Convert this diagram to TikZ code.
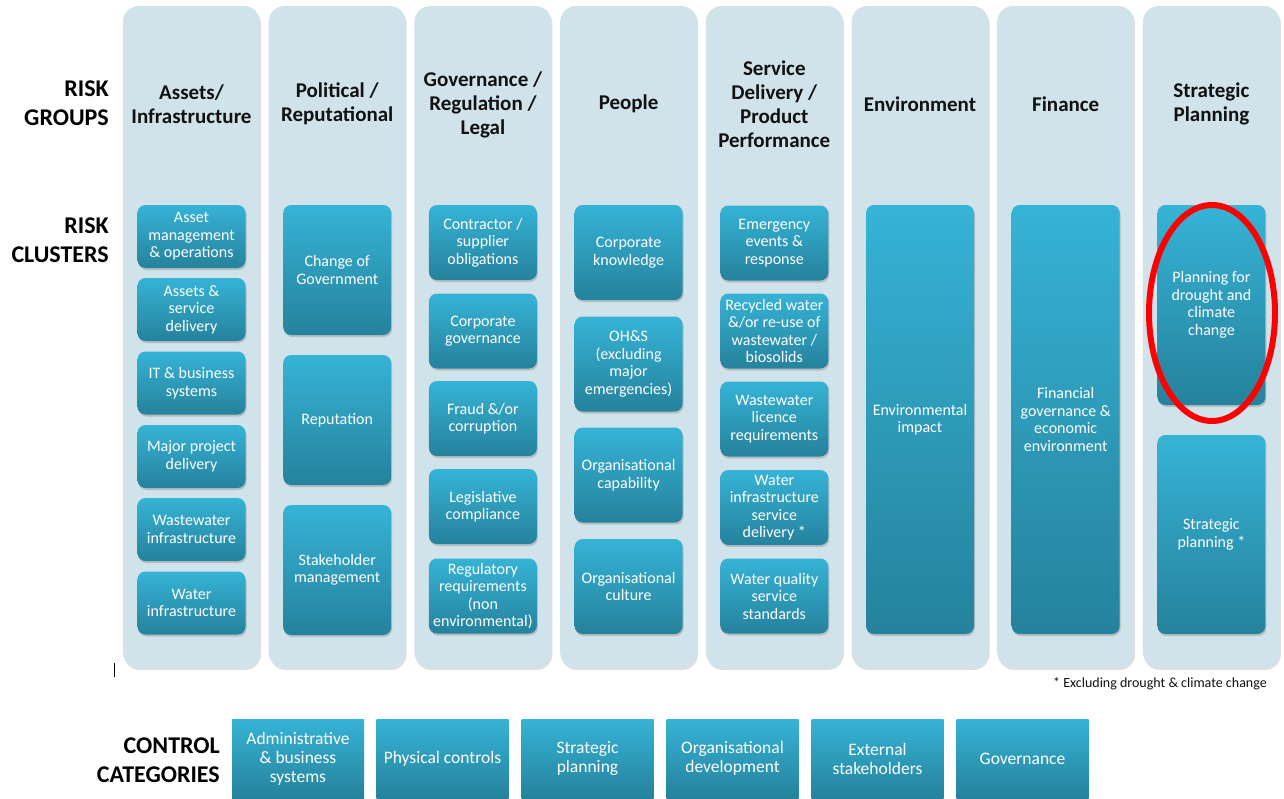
\documentclass[tikz,border=0pt]{standalone}
\usepackage{fontspec}
\setmainfont{Carlito}
\usetikzlibrary{shadows,shapes.geometric}
\definecolor{colbg}{HTML}{D0E2EA}
\definecolor{ctop}{HTML}{36B3D6}
\definecolor{cmid}{HTML}{2FA0C1}
\definecolor{cbot}{HTML}{25829C}
\definecolor{hdr}{HTML}{111111}
\definecolor{ring}{HTML}{FF0000}
\tikzset{
  colbox/.style={fill=colbg, rounded corners=16pt, minimum width=137pt, minimum height=662pt, inner sep=0pt,
    drop shadow={opacity=0.25, shadow xshift=1pt, shadow yshift=-2pt}},
  hdrtext/.style={font=\fontsize{21}{24}\selectfont\bfseries, text=hdr, align=center, inner sep=0pt},
  sidetext/.style={font=\fontsize{24}{29}\selectfont\bfseries, text=black, align=right, inner sep=0pt, anchor=east},
  clu/.style={rounded corners=8pt, top color=ctop, middle color=cmid, bottom color=cbot, text=white,
    font=\fontsize{16}{17.5}\selectfont, align=center, minimum width=108pt, inner sep=0pt,
    drop shadow={opacity=0.35, shadow xshift=1pt, shadow yshift=-2pt}},
  ctrl/.style={top color=ctop, middle color=cmid, bottom color=cbot, text=white,
    font=\fontsize{17.5}{19}\selectfont, align=center, minimum width=132pt, minimum height=79pt, inner sep=0pt},
}
\begin{document}
\begin{tikzpicture}[x=1pt,y=-1pt]
\useasboundingbox (0,0) rectangle (1284,798);
\clip (0,0) rectangle (1284,798);
\fill[white] (0,0) rectangle (1284,798);

% columns
\node[colbox] (g1) at (191.5,337) {};
\node[colbox] (g2) at (337.2,337) {};
\node[colbox] (g3) at (482.9,337) {};
\node[colbox] (g4) at (628.6,337) {};
\node[colbox] (g5) at (774.3,337) {};
\node[colbox] (g6) at (920.0,337) {};
\node[colbox] (g7) at (1065.7,337) {};
\node[colbox] (g8) at (1211.4,337) {};

% side labels
\node[sidetext] (lg) at (109,103) {RISK\\GROUPS};
\node[sidetext] (lc) at (109,240) {RISK\\CLUSTERS};
\node[sidetext] (lk) at (220,760) {CONTROL\\CATEGORIES};

% headers
\node[hdrtext] (h1) at (191.5,104) {Assets/\\Infrastructure};
\node[hdrtext] (h2) at (337.2,104) {Political /\\Reputational};
\node[hdrtext] (h3) at (482.9,105) {Governance /\\Regulation /\\Legal};
\node[hdrtext] (h4) at (628.6,104) {People};
\node[hdrtext] (h5) at (774.3,104) {Service\\Delivery /\\Product\\Performance};
\node[hdrtext] (h6) at (920.0,104) {Environment};
\node[hdrtext] (h7) at (1065.7,104) {Finance};
\node[hdrtext] (h8) at (1211.4,104) {Strategic\\Planning};

% column 1
\node[clu, minimum height=63pt] (a1) at (191.5,236.5) {Asset\\management\\\& operations};
\node[clu, minimum height=63pt] (a2) at (191.5,309.5) {Assets \&\\service\\delivery};
\node[clu, minimum height=63pt] (a3) at (191.5,383) {IT \& business\\systems};
\node[clu, minimum height=63pt] (a4) at (191.5,456.5) {Major project\\delivery};
\node[clu, minimum height=63pt] (a5) at (191.5,529.5) {Wastewater\\infrastructure};
\node[clu, minimum height=63pt] (a6) at (191.5,603) {Water\\infrastructure};

% column 2
\node[clu, minimum height=130pt] (b1) at (337.2,270) {Change of\\Government};
\node[clu, minimum height=130pt] (b2) at (337.2,420) {Reputation};
\node[clu, minimum height=130pt] (b3) at (337.2,570) {Stakeholder\\management};

% column 3
\node[clu, minimum height=75pt] (c1) at (482.9,242.5) {Contractor /\\supplier\\obligations};
\node[clu, minimum height=75pt] (c2) at (482.9,331) {Corporate\\governance};
\node[clu, minimum height=75pt] (c3) at (482.9,418.5) {Fraud \&/or\\corruption};
\node[clu, minimum height=75pt] (c4) at (482.9,506.5) {Legislative\\compliance};
\node[clu, minimum height=75pt] (c5) at (482.9,596) {Regulatory\\requirements\\(non\\environmental)};

% column 4
\node[clu, minimum height=95pt] (d1) at (628.6,252.5) {Corporate\\knowledge};
\node[clu, minimum height=95pt] (d2) at (628.6,364) {OH\&S\\(excluding\\major\\emergencies)};
\node[clu, minimum height=95pt] (d3) at (628.6,475) {Organisational\\capability};
\node[clu, minimum height=95pt] (d4) at (628.6,586.5) {Organisational\\culture};

% column 5
\node[clu, minimum height=75pt] (e1) at (774.3,243) {Emergency\\events \&\\response};
\node[clu, minimum height=75pt] (e2) at (774.3,331) {Recycled water\\\&/or re-use of\\wastewater /\\biosolids};
\node[clu, minimum height=75pt] (e3) at (774.3,419) {Wastewater\\licence\\requirements};
\node[clu, minimum height=75pt] (e4) at (774.3,507.5) {Water\\infrastructure\\service\\delivery *};
\node[clu, minimum height=75pt] (e5) at (774.3,596) {Water quality\\service\\standards};

% column 6, 7
\node[clu, minimum height=429pt] (f1) at (920.0,419.5) {Environmental\\impact};
\node[clu, minimum height=429pt] (k1) at (1065.7,419.5) {Financial\\governance \&\\economic\\environment};

% column 8
\node[clu, minimum height=200pt] (s1) at (1211.4,305) {Planning for\\drought and\\climate\\change};
\node[clu, minimum height=199pt] (s2) at (1211.4,534.5) {Strategic\\planning *};

% highlight ring
\node[draw=ring, line width=6pt, ellipse, minimum width=126pt, minimum height=216pt, inner sep=0pt] (ring) at (1212,313) {};

% small mark and footnote
\coordinate (m1) at (114,663);
\coordinate (m2) at (114,677);
\draw[line width=1pt] (m1) -- (m2);
\node[font=\fontsize{14}{16}\selectfont, anchor=east, inner sep=0pt, text=hdr] (fn) at (1267,684) {* Excluding drought \& climate change};

% control categories
\node[ctrl] (k1c) at (298,758.5) {Administrative\\\& business\\systems};
\node[ctrl] (k2c) at (442.5,758.5) {Physical controls};
\node[ctrl] (k3c) at (587.5,758.5) {Strategic\\planning};
\node[ctrl] (k4c) at (732.5,758.5) {Organisational\\development};
\node[ctrl] (k5c) at (877.5,758.5) {External\\stakeholders};
\node[ctrl] (k6c) at (1022.5,758.5) {Governance};
\end{tikzpicture}
\end{document}
